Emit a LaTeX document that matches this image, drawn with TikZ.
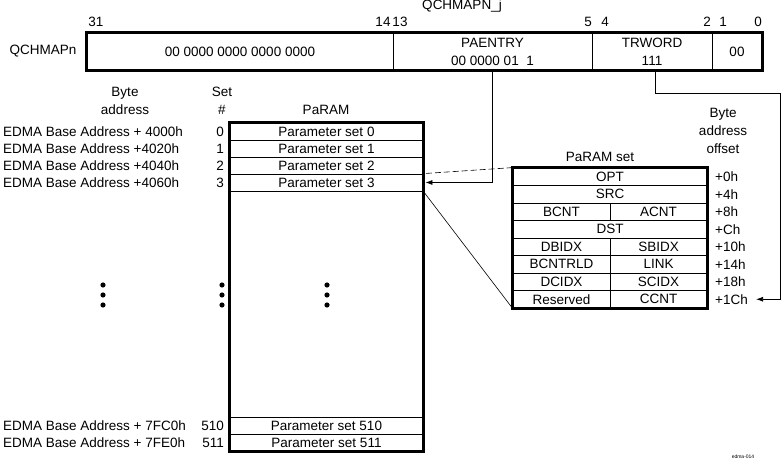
\documentclass[tikz,border=0pt]{standalone}
\usepackage{fontspec}
\setmainfont{Liberation Sans}
\usetikzlibrary{arrows.meta}

\begin{document}
\begin{tikzpicture}[x=1pt, y=-1pt, font=\fontsize{13.5}{18}\selectfont]
        \tikzstyle{every node}=[inner sep=0pt]
        \tikzstyle{field}=[draw, line width=0.8pt, minimum height=37pt, align=center]
        \tikzstyle{cell}=[draw, line width=0.8pt, minimum height=17pt]
        \tikzstyle{pcell}=[draw, line width=0.8pt, minimum height=17.5pt]
        \tikzstyle{thickbox}=[line width=3pt]
        \tikzstyle{conn}=[line width=0.8pt, -{Latex[length=7pt,width=5pt]}]
        \useasboundingbox (0,0) rectangle (782,462);
        \node (regname) at (462,6) {QCHMAPN\_j};
        \foreach \b/\x in {31/96, 14/383, 13/400, 5/588, 4/605, 2/707, 1/723, 0/758} \node (bit\b) at (\x,22) {\b};
        \node (qchmapn) at (43,51.5) {QCHMAPn};
        \node[field, minimum width=306pt] (f3114) at (240,51.5) {00 0000 0000 0000 0000};
        \node[field, minimum width=199pt] (paentry) at (492.5,51.5) {PAENTRY\\00 0000 01\ \ 1};
        \node[field, minimum width=120pt] (trword) at (652,51.5) {TRWORD\\111};
        \node[field, minimum width=50pt] (f10) at (737,51.5) {00};
        \draw[thickbox] (f3114.north west) rectangle (f10.south east);
        \node[align=center] (hbyte) at (125,101) {Byte\\address};
        \node[align=center] (hset) at (222,101) {Set\\\#};
        \node (hparam) at (326,110) {PaRAM};
        \foreach \i/\a/\y in {0/+ 4000h/131.5, 1/+4020h/148.5, 2/+4040h/165.5, 3/+4060h/182.5, 510/+ 7FC0h/425.5, 511/+ 7FE0h/442.5} {
            \node[cell, minimum width=193pt] (row\i) at (326.5,\y) {Parameter set \i};
            \node[anchor=west] (addr\i) at (3,\y) {EDMA Base Address \a};
            \node[anchor=east] (num\i) at (224,\y) {\i};
        }
        \draw[thickbox] (row0.north west) rectangle (row511.south east);
        \foreach \x in {103,222,327} \foreach \y in {285,295,305} \fill (\x,\y) circle (2.6pt);
        \node (hpset) at (600,157) {PaRAM set};
        \node[align=center] (hoffset) at (723,131) {Byte\\address\\offset};
        \foreach \n/\t/\y in {opt/OPT/176.75, src/SRC/194.25, dst/DST/229.25} \node[pcell, minimum width=194pt] (\n) at (610,\y) {\t};
        \foreach \l/\r/\y [count=\k] in {BCNT/ACNT/211.75, DBIDX/SBIDX/246.75, BCNTRLD/LINK/264.25, DCIDX/SCIDX/281.75, Reserved/CCNT/299.25} {
            \node[pcell, minimum width=97pt] (left\k) at (561.5,\y) {\l};
            \node[pcell, minimum width=97pt] (right\k) at (658.5,\y) {\r};
        }
        \draw[thickbox] (opt.north west) rectangle (right5.south east);
        \foreach \o/\y [count=\k from 0] in {0h/176.75, 4h/194.25, 8h/211.75, Ch/229.25, 10h/246.75, 14h/264.25, 18h/281.75, 1Ch/299.25} \node[anchor=west] (off\k) at (715,\y) {+\o};
        \coordinate (bend) at (780,93);
        \draw[conn] (paentry.south) |- ([xshift=2pt]row3.east);
        \draw[conn] ([xshift=3pt]trword.south) |- (bend) |- ([xshift=8pt]off7.east);
        \draw[dash pattern=on 6pt off 3pt, line width=0.6pt] (opt.north west) -- (row3.north east);
        \draw[line width=0.6pt] (left5.south west) -- (row3.south east);
        \node[font=\fontsize{5}{6}\selectfont] (figid) at (743,457) {edma-014};
    \end{tikzpicture}
\end{document}
